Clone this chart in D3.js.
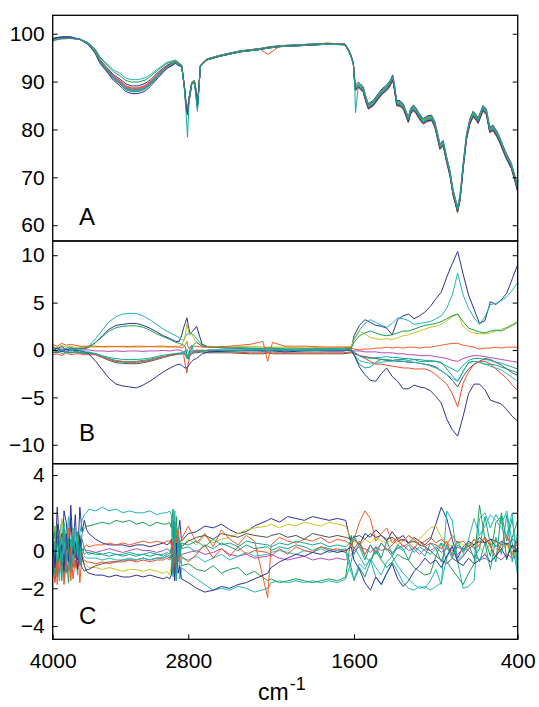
<!DOCTYPE html>
<html>
<head>
<meta charset="utf-8">
<script src="https://cdn.jsdelivr.net/npm/d3@7"></script>
<style>
  body { margin: 0; background: #fff; }
  text { font-family: "Liberation Sans", Arial, Helvetica, sans-serif; }
</style>
</head>
<body>
<svg id="chart" width="539" height="707"></svg>
<script>
// Spectra (A), scaled deviations (B) and residuals (C), twelve samples

// wavenumber grids (cm-1) for each panel
const waveA = [4000, 3935, 3847, 3758, 3688, 3626, 3581, 3519, 3464, 3404,
  3351, 3301, 3245, 3183, 3139, 3068, 2991, 2933, 2913, 2882,
  2858, 2835, 2820, 2807, 2795, 2775, 2756, 2744, 2734, 2722,
  2712, 2667, 2570, 2426, 2281, 2223, 2136, 1991, 1798, 1666,
  1642, 1622, 1605, 1596, 1589, 1568, 1552, 1532, 1512, 1495,
  1458, 1422, 1394, 1360, 1336, 1316, 1303, 1287, 1263, 1239,
  1219, 1202, 1186, 1165, 1146, 1129, 1109, 1092, 1065, 1031,
  1007, 985, 970, 946, 921, 897, 873, 857, 841, 824,
  813, 800, 775, 751, 727, 707, 690, 671, 654, 629,
  605, 581, 554, 532, 510, 483, 446, 422, 400];

const waveB = [4000, 3960, 3920, 3880, 3840, 3800, 3760, 3720,
  3680, 3620, 3560, 3500, 3440, 3380, 3320, 3260, 3200, 3140, 3080, 3020, 2960, 2910,
  2880, 2860, 2840, 2825, 2812, 2800, 2788, 2775, 2760, 2740, 2700,
  2650, 2500, 2350, 2260, 2225, 2190, 2100, 1950, 1800, 1680, 1620,
  1600, 1560, 1520, 1480, 1440, 1400, 1360, 1320, 1280, 1240, 1200, 1160, 1120, 1080, 1040, 1000,
  960, 920, 880, 840, 800, 760, 720, 680, 640, 600, 560, 520, 480, 440, 400];

const waveC = [4000, 3980, 3960, 3940, 3920, 3900, 3880, 3860, 3840, 3820, 3800, 3780, 3760, 3740, 3720, 3700,
  3680, 3620, 3560, 3500, 3440, 3380, 3320, 3260, 3200, 3140, 3080, 3020, 2990, 2965,
  2950, 2935, 2920, 2905, 2890, 2875, 2860,
  2800, 2740, 2680, 2620, 2560, 2500, 2440, 2380, 2320, 2225, 2200, 2140, 2080, 2020, 1960, 1900, 1840, 1780, 1720, 1660, 1620,
  1600, 1560, 1520, 1480, 1440, 1400, 1360, 1320, 1280, 1240, 1200, 1160, 1120, 1080, 1040, 1000,
  960, 920, 880, 840, 800, 760, 720, 680, 640, 600, 560, 520, 480, 440, 400];

const seriesColors = ["#2e3192", "#1cb5b8", "#c9c31c", "#1a9e4f", "#f15a24", "#b54ab5",
  "#505050", "#12a37f", "#2ab8c0", "#ee4d2a", "#2e3192", "#16a89a"];

// Panel A: spectra
const aS0 = [99.0, 99.3, 99.4,
  98.8, 98.0, 96.5, 94.5, 92.9, 91.5, 90.5, 89.5, 89.1, 89.1, 89.6, 90.3, 91.9, 93.4, 94.0, 94.2, 93.6, 93.3,
  89.2, 85.5, 83.9, 86.5, 89.9, 90.2, 88.2, 85.2, 89.5, 93.4, 94.7, 95.5, 96.4, 96.9, 97.2, 97.5, 97.7, 98.0, 97.9, 96.8, 95.5, 94.0,
  91.0, 89.3, 89.9, 89.5, 88.9, 86.8, 85.4, 86.1, 87.5, 88.5, 89.3, 90.2, 91.4, 89.3, 86.1, 86.0, 85.4,
  83.9, 82.6, 84.3, 85.1, 84.5, 83.7, 82.8, 82.3, 82.8, 83.0, 81.6, 78.9, 77.0, 77.7, 74.3, 71.5, 67.3, 65.6, 63.8, 66.1,
  69.0, 72.9, 79.1, 82.2, 83.8, 83.2, 82.4, 83.8, 85.0, 84.2, 80.5, 80.9, 79.7, 78.4, 76.8, 75.0, 72.9, 70.5, 68.1];
const aS1 = [98.8, 99.1, 99.2,
  98.9, 98.2, 96.9, 95.1, 93.7, 92.5, 91.7, 90.7, 90.4, 90.4, 90.8, 91.4, 92.7, 94.0, 94.4, 94.5, 93.9, 93.5,
  89.0, 85.2, 83.5, 86.2, 89.7, 90.0, 87.9, 84.8, 89.3, 93.3, 94.6, 95.4, 96.3, 96.8, 97.1, 97.4, 97.6, 97.9, 97.8, 96.7, 95.4, 93.9,
  90.8, 89.1, 89.7, 89.3, 88.7, 86.6, 85.2, 85.9, 87.3, 88.3, 89.1, 90.0, 91.2, 89.1, 85.9, 85.8, 85.2,
  83.7, 82.4, 84.1, 84.9, 84.3, 83.5, 82.6, 82.1, 82.6, 82.8, 81.4, 78.7, 76.8, 77.5, 74.1, 71.3, 67.1, 65.4, 63.6, 65.9,
  68.8, 72.7, 78.9, 82.0, 83.6, 83.0, 82.2, 83.6, 84.8, 84.0, 80.3, 80.7, 79.5, 78.2, 76.6, 74.8, 72.7, 70.3, 67.9];
const aS2 = [98.9, 99.1, 99.1,
  98.8, 97.9, 96.2, 94.1, 92.4, 90.8, 89.7, 88.6, 88.2, 88.2, 88.7, 89.5, 91.3, 93.0, 93.7, 94.0, 93.5, 93.2,
  88.8, 84.9, 83.1, 85.9, 89.5, 89.8, 87.6, 84.5, 89.1, 93.2, 94.5, 95.3, 96.2, 96.7, 97.0, 97.3, 97.5, 97.8, 97.7, 96.6, 95.3, 93.8,
  90.6, 88.9, 89.5, 89.1, 88.5, 86.4, 85.0, 85.7, 87.1, 88.1, 88.9, 89.8, 91.0, 88.9, 85.7, 85.6, 85.0,
  83.5, 82.2, 83.9, 84.7, 84.1, 83.3, 82.4, 81.9, 82.4, 82.6, 81.2, 78.5, 76.6, 77.3, 73.9, 71.1, 66.9, 65.2, 63.4, 65.7,
  68.6, 72.5, 78.7, 81.8, 83.4, 82.8, 82.0, 83.4, 84.6, 83.8, 80.1, 80.5, 79.3, 78.0, 76.4, 74.6, 72.5, 70.1, 67.7];
const aS3 = [98.7, 99.0, 99.2,
  98.9, 98.1, 96.8, 94.9, 93.4, 92.1, 91.2, 90.2, 89.9, 89.9, 90.3, 91.0, 92.4, 93.8, 94.2, 94.4, 93.8, 93.4,
  89.2, 85.5, 83.9, 86.5, 89.9, 90.2, 88.2, 85.2, 89.5, 93.4, 94.7, 95.5, 96.4, 96.9, 97.2, 97.5, 97.7, 98.0, 97.9, 96.8, 95.5, 94.0,
  90.5, 88.8, 89.4, 89.2, 88.6, 86.5, 85.1, 85.8, 87.2, 88.2, 89.0, 89.9, 91.1, 89.0, 85.8, 85.7, 85.1,
  83.6, 82.3, 84.0, 84.8, 84.2, 83.4, 82.5, 82.0, 82.5, 82.7, 81.3, 78.6, 76.7, 77.4, 74.0, 71.2, 67.0, 65.3, 63.5, 65.8,
  68.7, 72.6, 78.8, 81.9, 83.5, 82.9, 82.1, 83.5, 84.7, 83.9, 80.2, 80.6, 79.4, 78.1, 76.5, 74.7, 72.6, 70.2, 67.8];
const aS4 = [98.8, 99.2, 99.2,
  98.8, 97.9, 96.4, 94.3, 92.7, 91.2, 90.2, 89.1, 88.7, 88.7, 89.2, 90.0, 91.6, 93.2, 93.9, 94.1, 93.6, 93.2,
  89.1, 85.3, 83.7, 86.3, 89.8, 90.1, 88.0, 84.9, 89.4, 93.3, 94.6, 95.4, 96.3, 96.8, 95.7, 97.4, 97.6, 97.9, 97.8, 96.7, 95.4, 93.9,
  90.4, 88.7, 89.3, 88.9, 88.3, 86.2, 84.8, 85.5, 86.9, 87.9, 88.7, 89.6, 90.8, 88.7, 85.5, 85.4, 84.8,
  83.3, 82.0, 83.7, 84.5, 83.9, 83.1, 82.2, 81.7, 82.2, 82.4, 81.0, 78.3, 76.4, 77.1, 73.7, 70.9, 66.7, 65.0, 63.2, 65.5,
  68.4, 72.3, 78.5, 81.6, 83.2, 82.6, 81.8, 83.2, 84.4, 83.6, 79.9, 80.3, 79.1, 77.8, 76.2, 74.4, 72.3, 69.9, 67.5];
const aS5 = [98.9, 99.2, 99.3,
  98.8, 97.9, 96.3, 94.2, 92.5, 91.0, 89.9, 88.8, 88.4, 88.4, 88.9, 89.7, 91.4, 93.1, 93.8, 94.0, 93.5, 93.2,
  89.0, 85.2, 83.5, 86.2, 89.7, 90.0, 87.9, 84.8, 89.3, 93.3, 94.6, 95.4, 96.3, 96.8, 97.1, 97.4, 97.6, 97.9, 97.8, 96.7, 95.4, 93.9,
  90.2, 88.5, 89.1, 88.7, 88.1, 86.0, 84.6, 85.3, 86.7, 87.7, 88.5, 89.4, 90.6, 88.5, 85.3, 85.2, 84.6,
  83.1, 81.8, 83.5, 84.3, 83.7, 82.9, 82.0, 81.5, 82.0, 82.2, 80.8, 78.1, 76.2, 76.9, 73.5, 70.7, 66.5, 64.8, 63.0, 65.3,
  68.2, 72.1, 78.3, 81.4, 83.0, 82.4, 81.6, 83.0, 84.2, 83.4, 79.7, 80.1, 78.9, 77.6, 76.0, 74.2, 72.1, 69.7, 67.3];
const aS6 = [98.9, 99.1, 99.2,
  98.8, 97.8, 96.1, 94.0, 92.2, 90.6, 89.5, 88.3, 87.9, 87.9, 88.4, 89.3, 91.1, 92.9, 93.6, 93.9, 93.4, 93.1,
  88.8, 84.9, 83.1, 85.9, 89.5, 89.8, 87.6, 84.5, 89.1, 93.2, 94.5, 95.3, 96.2, 96.7, 97.0, 97.3, 97.5, 97.8, 97.7, 96.6, 95.3, 93.8,
  90.1, 88.4, 89.0, 88.6, 88.0, 85.9, 84.5, 85.2, 86.6, 87.6, 88.4, 89.3, 90.5, 88.4, 85.2, 85.1, 84.5,
  83.0, 81.7, 83.4, 84.2, 83.6, 82.8, 81.9, 81.4, 81.9, 82.1, 80.7, 78.0, 76.1, 76.8, 73.4, 70.6, 66.4, 64.7, 62.9, 65.2,
  68.1, 72.0, 78.2, 81.3, 82.9, 82.3, 81.5, 82.9, 84.1, 83.3, 79.6, 80.0, 78.8, 77.5, 75.9, 74.1, 72.0, 69.6, 67.2];
const aS7 = [98.8, 99.2, 99.1,
  98.8, 97.9, 96.2, 94.1, 92.3, 90.8, 89.6, 88.5, 88.1, 88.1, 88.6, 89.4, 91.2, 93.0, 93.7, 93.9, 93.4, 93.2,
  89.2, 85.5, 83.9, 86.5, 89.9, 90.2, 88.2, 85.2, 89.5, 93.4, 94.7, 95.5, 96.4, 96.9, 97.2, 97.5, 97.7, 98.0, 97.9, 96.8, 95.5, 94.0,
  90.0, 88.3, 88.9, 88.5, 87.9, 85.8, 84.4, 85.1, 86.5, 87.5, 88.3, 89.2, 90.4, 88.3, 85.1, 85.0, 84.4,
  82.9, 81.6, 83.3, 84.1, 83.5, 82.7, 81.8, 81.3, 81.8, 82.0, 80.6, 77.9, 76.0, 76.7, 73.3, 70.5, 66.3, 64.6, 62.8, 65.1,
  68.0, 71.9, 78.1, 81.2, 82.8, 82.2, 81.4, 82.8, 84.0, 83.2, 79.5, 79.9, 78.7, 77.4, 75.8, 74.0, 71.9, 69.5, 67.1];
const aS8 = [98.7, 99.0, 99.1,
  98.8, 97.8, 96.2, 94.0, 92.3, 90.7, 89.6, 88.4, 88.0, 88.0, 88.5, 89.4, 91.1, 92.9, 93.7, 93.9, 93.4, 93.1,
  88.8, 84.9, 83.1, 85.9, 89.5, 89.8, 87.6, 84.5, 89.1, 93.2, 94.5, 95.3, 96.2, 96.7, 97.0, 97.3, 97.5, 97.8, 97.7, 96.6, 95.3, 93.8,
  90.2, 88.5, 89.1, 88.7, 88.1, 86.0, 84.6, 85.3, 86.7, 87.7, 88.5, 89.4, 90.6, 88.5, 85.3, 85.2, 84.6,
  83.1, 81.8, 83.5, 84.3, 83.7, 82.9, 82.0, 81.5, 82.0, 82.2, 80.8, 78.1, 76.2, 76.9, 73.5, 70.7, 66.5, 64.8, 63.0, 65.3,
  68.2, 72.1, 78.3, 81.4, 83.0, 82.4, 81.6, 83.0, 84.2, 83.4, 79.7, 80.1, 78.9, 77.6, 76.0, 74.2, 72.1, 69.7, 67.3];
const aS9 = [98.6, 98.9, 99.0,
  98.8, 97.9, 96.4, 94.3, 92.6, 91.2, 90.1, 89.0, 88.6, 88.6, 89.1, 89.9, 91.5, 93.2, 93.9, 94.0, 93.5, 93.2,
  89.0, 85.2, 83.5, 86.2, 89.7, 90.0, 87.9, 84.8, 89.3, 93.3, 94.6, 95.4, 96.3, 96.8, 97.1, 97.4, 97.6, 97.9, 97.8, 96.7, 95.4, 93.9,
  89.8, 88.1, 88.7, 88.3, 87.7, 85.6, 84.2, 84.9, 86.3, 87.3, 88.1, 89.0, 90.2, 88.1, 84.9, 84.8, 84.2,
  82.7, 81.4, 83.1, 83.9, 83.3, 82.5, 81.6, 81.1, 81.6, 81.8, 80.4, 77.7, 75.8, 76.5, 73.1, 70.3, 66.1, 64.4, 62.6, 64.9,
  67.8, 71.7, 77.9, 81.0, 82.6, 82.0, 81.2, 82.6, 83.8, 83.0, 79.3, 79.7, 78.5, 77.2, 75.6, 73.8, 71.7, 69.3, 66.9];
const aS10 = [99.0, 99.3, 99.3,
  98.8, 97.8, 96.0, 93.8, 92.0, 90.3, 89.1, 87.9, 87.5, 87.5, 88.0, 88.9, 90.8, 92.7, 93.5, 93.8, 93.3, 93.1,
  88.8, 84.9, 83.1, 85.9, 89.5, 89.8, 87.6, 84.5, 89.1, 93.2, 94.5, 95.3, 96.2, 96.7, 97.0, 97.3, 97.5, 97.8, 97.7, 96.6, 95.3, 93.8,
  90.0, 88.3, 88.9, 88.5, 87.9, 85.8, 84.4, 85.1, 86.5, 87.5, 88.3, 89.2, 90.4, 88.3, 85.1, 85.0, 84.4,
  82.9, 81.6, 83.3, 84.1, 83.5, 82.7, 81.8, 81.3, 81.8, 82.0, 80.6, 77.9, 76.0, 76.7, 73.3, 70.5, 66.3, 64.6, 62.8, 65.1,
  68.0, 71.9, 78.1, 81.2, 82.8, 82.2, 81.4, 82.8, 84.0, 83.2, 79.5, 79.9, 78.7, 77.4, 75.8, 74.0, 71.9, 69.5, 67.1];
const aS11 = [98.5, 98.9, 99.1,
  98.8, 97.9, 96.3, 94.1, 92.4, 90.9, 89.7, 88.6, 88.2, 88.3, 88.7, 89.6, 91.3, 93.0, 93.8, 94.0, 93.5, 93.2,
  88.6, 83.5, 78.4, 85.5, 89.5, 89.8, 86.5, 83.8, 88.8, 93.1, 94.5, 95.3, 96.2, 96.7, 97.0, 97.3, 97.5, 97.8, 97.7, 96.6, 95.2, 93.6,
  90.3, 83.5, 89.2, 88.9, 88.3, 86.2, 84.8, 85.5, 86.9, 87.9, 88.7, 89.6, 90.8, 88.7, 85.5, 85.4, 84.8,
  83.3, 82.0, 83.7, 84.5, 83.9, 83.1, 82.2, 81.7, 82.2, 82.4, 81.0, 78.3, 76.4, 77.1, 73.7, 70.9, 66.7, 65.0, 63.2, 65.5,
  68.4, 72.3, 78.5, 81.6, 83.2, 82.6, 81.8, 83.2, 84.4, 83.6, 79.9, 80.3, 79.1, 77.8, 76.2, 74.4, 72.3, 69.9, 67.5];

// Panel B: scaled deviations
const bS0 = [0.3, 0.1, 0.4, 0.0, 0.2, 0.1, 0.2, 0.1,
  0.3, 0.8, 1.5, 2.2, 2.6, 2.7, 2.8, 2.8, 2.6, 2.3, 1.9, 1.5, 1.2, 0.9,
  0.9, 1.5, 2.4, 2.9, 3.4, 2.6, 1.7, 1.9, 2.1, 2.5, 0.6,
  0.3, 0.2, 0.1, 0.1, 0.1, 0.1, 0.0, 0.1, 0.0, 0.0, 0.1,
  1.5, 2.6, 3.2, 2.9, 2.6, 2.5, 2.3, 1.6, 3.2, 3.6, 3.8, 3.3, 3.6, 4.0, 4.6, 5.4,
  6.1, 7.7, 9.1, 10.4, 8.0, 5.8, 4.3, 2.8, 3.1, 5.1, 4.8, 5.3, 6.0, 7.5, 9.0];
const bS1 = [0.1, 0.3, 0.0, 0.2, 0.3, 0.1, 0.2, 0.3,
  0.4, 1.2, 2.1, 3.0, 3.5, 3.8, 3.85, 3.85, 3.6, 3.2, 2.7, 2.2, 1.8, 1.5,
  1.3, 1.1, 1.0, 1.4, 1.7, 1.7, 1.7, 1.7, 1.6, 1.2, 0.5,
  0.3, 0.3, 0.2, 0.2, 0.3, 0.2, 0.2, 0.2, 0.1, 0.2, 0.3,
  1.2, 2.1, 2.8, 3.2, 2.9, 2.6, 2.4, 2.8, 3.4, 3.3, 3.1, 2.7, 2.8, 2.9, 3.0, 3.3,
  3.6, 4.4, 5.8, 8.1, 5.8, 4.4, 3.4, 2.7, 3.5, 4.8, 4.9, 5.2, 5.6, 6.3, 7.1];
const bS2 = [0.4, 0.2, 0.5, 0.3, 0.4, 0.3, 0.3, 0.3,
  0.3, 0.3, 0.3, 0.3, 0.35, 0.3, 0.3, 0.3, 0.3, 0.35, 0.3, 0.3, 0.3, 0.4,
  0.4, 0.5, 1.0, 1.7, 2.8, 2.0, 1.6, 1.7, 1.2, 0.8, 0.4,
  0.3, 0.3, 0.4, 0.3, 0.3, 0.3, 0.3, 0.2, 0.3, 0.3, 0.4,
  1.0, 2.0, 1.7, 1.3, 1.2, 1.1, 1.2, 1.1, 1.3, 1.5, 1.6, 1.8, 2.0, 2.2, 2.4, 2.5,
  2.7, 3.1, 3.5, 3.8, 2.5, 2.0, 1.8, 1.7, 1.7, 1.8, 2.0, 2.2, 2.4, 2.7, 3.0];
const bS3 = [0.0, 0.2, -0.1, 0.1, 0.0, 0.2, 0.1, 0.2,
  0.3, 0.8, 1.4, 2.0, 2.35, 2.5, 2.55, 2.55, 2.4, 2.1, 1.7, 1.4, 1.1, 0.8,
  0.7, 0.6, 0.5, 0.3, -0.5, -0.9, -0.4, 0.3, 0.6, 0.8, 0.4,
  0.3, 0.2, 0.2, 0.1, 0.2, 0.2, 0.1, 0.1, 0.1, 0.1, 0.2,
  0.8, 1.5, 1.8, 2.0, 1.8, 1.6, 1.5, 1.6, 1.8, 2.0, 2.0, 2.2, 2.4, 2.6, 2.7, 2.8,
  3.0, 3.3, 3.6, 3.8, 3.0, 2.3, 2.1, 1.9, 1.8, 2.0, 2.1, 2.0, 2.3, 2.6, 2.9];
const bS4 = [0.6, 0.4, 0.7, 0.5, 0.6, 0.5, 0.4, 0.4,
  0.4, 0.4, 0.35, 0.4, 0.35, 0.4, 0.35, 0.4, 0.4, 0.35, 0.4, 0.4, 0.35, 0.3,
  0.3, 0.2, 0.3, 0.6, 0.9, 0.2, 0.2, 0.3, 0.4, 0.4, 0.3,
  0.3, 0.4, 0.6, 0.9, -1.2, 0.8, 0.4, 0.4, 0.3, 0.3, 0.2,
  0.1, 0.0, 0.1, 0.1, 0.2, 0.2, 0.3, 0.2, 0.3, 0.2, 0.3, 0.3, 0.2, 0.3, 0.3, 0.4,
  0.5, 0.6, 0.7, 0.7, 0.5, 0.4, 0.3, 0.1, 0.2, 0.2, 0.3, 0.2, 0.3, 0.3, 0.3];
const bS5 = [0.0, -0.1, 0.1, 0.0, -0.1, 0.0, 0.0, 0.0,
  0.0, -0.1, -0.1, -0.15, -0.1, -0.15, -0.1, -0.1, -0.15, -0.1, -0.1, -0.05, -0.1, 0.0,
  0.0, -0.1, -0.2, -0.4, -0.6, -0.5, -0.2, -0.1, -0.1, 0.0, -0.1,
  -0.1, 0.0, 0.0, -0.1, -0.1, 0.0, -0.1, 0.0, -0.1, -0.1, 0.0,
  -0.1, -0.1, -0.2, -0.2, -0.2, -0.3, -0.3, -0.3, -0.4, -0.4, -0.5, -0.5, -0.6, -0.6, -0.6, -0.7,
  -0.8, -0.9, -1.1, -1.2, -0.9, -0.7, -0.6, -0.6, -0.7, -0.8, -0.9, -1.0, -1.1, -1.2, -1.3];
const bS6 = [-0.2, -0.3, -0.1, -0.2, -0.3, -0.2, -0.3, -0.3,
  -0.3, -0.5, -0.8, -1.1, -1.35, -1.4, -1.45, -1.45, -1.35, -1.2, -1.0, -0.8, -0.6, -0.5,
  -0.4, -0.4, -0.4, -0.5, -0.7, -0.8, -0.6, -0.4, -0.3, -0.3, -0.2,
  -0.3, -0.3, -0.4, -0.4, -0.3, -0.4, -0.4, -0.4, -0.4, -0.4, -0.3,
  -0.4, -0.6, -0.7, -0.8, -0.9, -1.0, -1.1, -1.1, -1.2, -1.2, -1.3, -1.3, -1.4, -1.5, -1.6, -1.8,
  -2.2, -2.6, -3.2, -3.9, -2.8, -2.0, -1.5, -1.2, -0.9, -1.0, -1.3, -1.6, -2.0, -2.4, -2.7];
const bS7 = [-0.3, -0.1, -0.4, -0.2, -0.3, -0.2, -0.3, -0.4,
  -0.3, -0.4, -0.7, -0.9, -1.1, -1.2, -1.2, -1.2, -1.1, -1.0, -0.8, -0.7, -0.5, -0.4,
  -0.4, -0.4, -0.3, 0.0, -0.8, -1.0, 0.2, 0.5, -0.2, -0.2, -0.1,
  -0.1, -0.1, 0.0, -0.1, 0.0, -0.1, 0.0, 0.0, 0.1, 0.0, -0.1,
  -0.5, -1.5, -1.9, -1.8, -1.3, -1.0, -1.0, -1.1, -1.0, -1.0, -1.1, -1.0, -1.2, -1.2, -1.2, -1.2,
  -1.3, -2.0, -2.7, -3.3, -2.3, -1.3, -1.2, -1.3, -1.5, -1.5, -1.6, -1.8, -2.0, -2.2, -2.4];
const bS8 = [0.2, -0.1, 0.3, 0.0, 0.1, -0.1, 0.0, -0.2,
  -0.2, -0.4, -0.7, -1.0, -1.2, -1.3, -1.3, -1.3, -1.2, -1.1, -0.9, -0.7, -0.55, -0.4,
  -0.3, -0.3, -0.2, -0.1, 0.1, -0.3, -0.5, -0.3, -0.2, -0.1, -0.1,
  0.0, 0.1, 0.1, 0.0, 0.1, 0.0, 0.1, 0.0, 0.0, 0.1, 0.0,
  -0.5, -1.1, -1.3, -1.4, -1.4, -1.3, -1.2, -1.2, -1.1, -1.2, -1.2, -1.3, -1.4, -1.5, -1.7, -1.9,
  -2.2, -2.6, -3.0, -3.3, -2.2, -1.4, -1.2, -1.3, -1.5, -1.7, -1.9, -2.1, -2.5, -2.9, -3.3];
const bS9 = [-0.5, -0.4, -0.6, -0.3, -0.5, -0.4, -0.4, -0.5,
  -0.5, -0.5, -0.8, -1.0, -1.2, -1.25, -1.3, -1.3, -1.2, -1.1, -0.9, -0.7, -0.55, -0.45,
  -0.4, -0.3, -0.6, -1.7, -2.4, -1.4, -0.6, -0.3, -0.2, -0.1, 0.0,
  -0.1, -0.2, -0.3, -0.3, -0.3, -0.3, -0.3, -0.3, -0.3, -0.3, -0.2,
  -0.3, -0.6, -0.9, -1.2, -1.5, -1.5, -1.6, -1.7, -1.8, -1.9, -1.9, -2.0, -2.0, -2.0, -2.2, -2.6,
  -3.1, -3.6, -4.6, -6.0, -3.5, -2.3, -1.5, -1.2, -1.2, -1.5, -2.0, -2.5, -3.0, -3.7, -4.3];
const bS10 = [-0.1, 0.2, -0.2, 0.1, -0.1, 0.0, -0.1, -0.2,
  -0.4, -1.2, -2.1, -3.0, -3.6, -3.8, -3.9, -4.0, -3.7, -3.3, -2.8, -2.3, -1.9, -1.6,
  -1.5, -1.6, -1.8, -1.9, -1.9, -1.7, -1.4, -1.2, -1.0, -0.9, -0.4,
  -0.2, -0.1, -0.1, -0.1, -0.1, -0.1, -0.2, -0.1, -0.1, -0.1, 0.0,
  -0.5, -1.8, -2.6, -3.2, -3.3, -2.5, -1.9, -2.8, -3.3, -4.1, -4.1, -3.7, -3.9, -4.0, -4.3, -4.9,
  -5.6, -7.3, -8.4, -9.1, -7.0, -4.6, -3.6, -3.6, -4.2, -5.3, -5.5, -5.7, -6.3, -7.0, -7.5];
const bS11 = [0.1, -0.2, 0.0, -0.3, 0.0, -0.2, -0.1, -0.3,
  -0.3, -0.4, -0.6, -0.8, -0.9, -1.0, -1.0, -1.0, -0.95, -0.85, -0.7, -0.55, -0.45, -0.4,
  -0.4, -0.4, -0.3, -0.5, -0.9, -0.5, -0.2, -0.2, -0.2, -0.2, -0.1,
  0.0, -0.1, 0.0, 0.0, -0.1, 0.0, 0.0, -0.1, 0.0, 0.0, 0.0,
  -0.2, -0.6, -0.8, -0.9, -0.8, -0.8, -0.7, -0.8, -0.8, -0.9, -0.9, -1.0, -1.0, -1.1, -1.1, -1.2,
  -1.4, -1.7, -2.0, -2.3, -1.6, -1.1, -0.9, -0.9, -1.0, -1.1, -1.3, -1.4, -1.6, -1.8, -2.0];

// Panel C: residuals
const cS0 = [1.2, -0.6, 2.3, 0.4, -0.8, 2.1, 1.5, -0.3, 2.4, 0.2, 1.9, -0.5, 2.3, 1.0, 1.6, 1.1,
  0.9, 0.6, 0.4, 0.3, 0.3, 0.3, 0.2, 0.3, 0.3, 0.2, 0.3, 0.4, 0.3, 0.4,
  0.6, -1.2, 1.5, -0.8, 0.9, 1.6, 0.5,
  0.9, 1.0, 1.3, 1.2, 1.4, 1.1, 0.9, 1.0, 1.3, 1.6, 1.7, 1.5, 1.8, 1.7, 1.6, 1.8, 1.7, 1.6, 1.7, 1.6, 0.3,
  0.6, 0.3, 0.9, 0.7, 1.1, 0.8, 0.5, 1.0, 0.6, 0.8, 0.4, 0.7, 0.5, 0.3, 0.6, 1.4,
  2.3, 1.7, 0.6, -0.4, 0.2, 0.5, 0.3, 0.7, 0.4, 0.6, 0.2, 0.5, 0.3, 0.6, 0.4];
const cS1 = [-0.4, 1.3, -1.1, 0.8, 1.6, -0.9, 0.3, 1.8, -0.6, 1.2, 0.1, -1.3, 0.9, 1.6, 1.9, 2.0,
  2.2, 2.1, 2.3, 2.1, 2.2, 2.0, 2.1, 2.0, 2.0, 2.1, 1.9, 2.0, 2.0, 2.1,
  1.9, -1.4, 2.1, -0.6, 1.2, -1.5, -0.9,
  -1.2, -1.5, -1.8, -2.1, -2.0, -2.1, -1.9, -2.0, -2.2, -2.0, -1.7, -1.6, -1.7, -1.6, -1.7, -1.6, -1.7, -1.6, -1.7, -1.5, -0.6,
  0.2, -0.3, -0.8, -0.5, -1.4, -1.8, -1.2, -0.6, -1.1, -1.7, -2.0, -2.1, -1.9, -2.0, -1.6, -1.0,
  -1.8, 2.1, 1.6, -0.6, -2.0, -1.9, -1.6, 1.7, 2.0, 1.2, 1.9, 1.4, 2.1, 0.4, -1.3];
const cS2 = [1.8, 0.6, 1.4, -0.2, 1.7, 0.9, 1.1, 0.2, 1.6, 0.4, -0.3, 0.8, 0.1, -0.4, -0.7, -0.8,
  -0.9, -0.9, -1.0, -0.9, -1.0, -1.1, -1.0, -1.0, -1.1, -1.0, -1.1, -1.2, -1.1, -1.3,
  -0.8, 0.6, -1.3, 1.1, 0.3, -0.4, 0.2,
  0.6, 0.3, 0.8, 0.4, 0.6, 0.7, 0.9, 1.1, 1.2, 1.3, 1.4, 1.2, 1.4, 1.3, 1.5, 1.4, 1.3, 1.5, 1.4, 1.3, 0.6,
  0.5, 0.3, 0.6, 0.4, 0.7, 0.5, 0.4, 0.6, 0.3, 0.5, 0.8, 0.4, 0.6, 0.9, 1.2, 1.3,
  0.7, 0.4, 0.2, 0.5, 0.3, 0.1, 0.6, 0.2, -0.2, 0.4, 0.1, 0.0, 0.3, -0.3, 0.2];
const cS3 = [-0.9, 0.5, -1.4, 0.2, -1.6, 0.9, -0.3, -1.7, 0.6, -0.8, 0.4, 1.0, -0.5, 0.9, 1.2, 1.3,
  1.3, 1.4, 1.5, 1.4, 1.6, 1.5, 1.6, 1.4, 1.5, 1.3, 1.5, 1.4, 1.4, 1.5,
  1.2, 2.2, -1.2, 1.8, -0.4, 0.5, -0.8,
  -0.7, -1.0, -1.1, -0.8, -1.2, -1.0, -0.9, -1.3, -1.1, -1.6, -1.5, -1.7, -1.6, -1.5, -1.6, -1.7, -1.6, -1.5, -1.6, -1.4, 0.8,
  -0.2, 0.4, -0.3, -0.6, 0.0, -0.5, -0.9, -0.6, -0.2, -0.4, -0.5, -0.9, -1.1, -1.3, -1.2, -0.3,
  0.4, -0.6, -1.0, -1.4, -1.8, -1.2, -0.7, 2.4, 0.6, -0.3, 1.5, 1.8, -0.5, 0.7, 1.6];
const cS4 = [-1.1, 0.3, -1.8, -0.5, 0.9, -1.4, -0.2, 1.2, -1.6, 0.1, -0.9, 0.5, -1.7, -0.3, 0.2, 0.3,
  0.2, 0.3, 0.3, 0.4, 0.3, 0.4, 0.3, 0.4, 0.5, 0.4, 0.5, 0.4, 0.5, 0.5,
  0.3, -0.6, 0.9, -0.2, 1.1, 0.4, 0.6,
  1.3, 0.4, 0.9, 0.2, 1.1, 0.6, 0.3, 0.8, 0.5, -2.5, 0.3, 0.7, 0.5, 0.4, 0.6, 0.5, 0.7, 0.4, 0.6, 0.5, 0.3,
  0.6, 1.5, 2.1, 1.7, 0.5, 0.9, 1.2, 0.4, 0.7, 0.5, 0.8, 0.6, 0.3, 0.5, 0.7, 0.4,
  0.6, 0.3, 0.8, 0.4, 0.5, 0.2, 0.6, 0.4, 0.7, 0.3, 0.5, 0.1, 0.4, -0.2, 0.6];
const cS5 = [0.5, -0.2, 0.8, 0.1, -0.4, 0.6, 0.2, -0.3, 0.4, 0.0, 0.3, -0.2, 0.2, 0.0, 0.1, 0.0,
  0.0, -0.1, 0.0, 0.1, 0.0, -0.1, 0.0, 0.1, 0.0, 0.0, -0.1, 0.0, 0.1, 0.0,
  -0.2, 0.3, -0.5, 0.2, -0.3, -0.1, -0.2,
  -0.1, 0.0, -0.2, -0.1, 0.1, -0.2, -0.3, -0.2, -0.4, -0.3, -0.2, -0.4, -0.5, -0.4, -0.3, -0.5, -0.4, -0.5, -0.4, -0.5, -0.2,
  0.0, 0.2, 0.1, -0.1, 0.2, 0.0, 0.1, -0.1, 0.1, 0.3, 0.0, 0.1, -0.2, 0.1, 0.0, 0.2,
  -0.1, 0.1, 0.0, -0.2, 0.1, 0.0, -0.3, -0.5, -0.4, -0.6, -0.3, -0.5, -0.2, -0.4, -0.3];
const cS6 = [0.2, -0.7, 0.5, -0.3, 0.9, -0.5, 0.1, 0.6, -0.8, 0.3, -0.4, 0.2, -0.6, -0.9, -1.1, -1.0,
  -1.0, -0.8, -0.7, -0.6, -0.6, -0.5, -0.5, -0.5, -0.4, -0.5, -0.4, -0.4, -0.3, -0.4,
  -0.2, 0.4, -0.6, 0.1, -0.3, 0.3, 0.2,
  0.5, 0.7, 0.8, 0.6, 0.9, 0.8, 0.7, 0.9, 0.8, 0.7, 0.8, 0.9, 0.7, 0.8, 0.6, 0.9, 0.8, 0.7, 0.8, 0.7, 0.6,
  0.7, 0.8, 0.6, 0.9, 0.7, 0.8, 0.6, 0.7, 0.5, 0.6, 0.4, 0.5, 0.3, 0.2, 0.0, -0.3,
  -0.5, -0.7, -0.4, -0.6, -0.3, 0.1, 0.3, 0.5, 0.4, 0.6, 0.5, 0.3, 0.4, 0.2, 0.3];
const cS7 = [0.8, -1.5, 0.2, 1.1, -0.6, 0.5, -1.2, 0.7, 0.3, -0.9, 1.0, 0.4, -0.2, 0.6, 0.1, -0.1,
  -0.1, -0.2, -0.2, -0.3, -0.2, -0.3, -0.2, -0.3, -0.2, -0.3, -0.2, -0.3, -0.2, -0.3,
  -0.4, 1.6, -1.0, 0.8, -0.3, 0.4, 0.1,
  0.2, -0.1, 0.3, 0.1, 0.4, 0.2, 0.0, 0.3, 0.1, 0.2, 0.0, 0.2, 0.1, 0.3, 0.2, 0.0, 0.2, 0.1, 0.0, 0.1, -0.9,
  -1.6, -0.9, -1.4, -0.6, 0.2, -0.4, 0.5, -0.2, 0.3, 0.1, -0.5, 0.2, 0.0, -0.3, 0.4, 0.1,
  -0.6, 0.3, -0.2, 0.5, -0.1, 0.3, -0.4, 0.1, 1.8, 0.3, -0.6, 2.0, 0.5, 1.7, -0.8];
const cS8 = [-1.3, 0.4, -0.5, -1.6, 0.7, -0.2, 1.1, -1.0, 0.5, -0.7, 1.3, -0.4, 0.6, -0.5, -0.3, -0.4,
  -0.4, -0.4, -0.5, -0.4, -0.5, -0.5, -0.4, -0.5, -0.4, -0.5, -0.4, -0.4, -0.3, -0.4,
  -0.5, -1.3, 0.6, -1.5, 0.3, -0.7, -0.4,
  -0.5, -0.3, -0.6, -0.4, -0.2, -0.5, -0.3, -0.1, -0.3, -0.2, -0.1, 0.0, -0.1, -0.2, 0.0, -0.1, 0.1, -0.1, 0.0, -0.1, -1.2,
  -1.5, -0.7, -1.0, -0.4, -0.9, -1.3, -0.6, -0.3, -0.8, -1.2, -1.5, -1.8, -2.0, -1.9, -2.1, -1.9,
  -1.7, -0.4, 0.3, -0.5, -0.2, 0.6, 1.7, 0.8, 1.3, 1.9, 1.6, 1.2, 0.8, 2.0, -1.4];
const cS9 = [-0.8, -1.7, -0.4, -1.2, 0.3, -1.8, -0.6, -1.1, 0.2, -1.5, -0.5, -1.0, -0.3, -0.6, -0.5, -0.6,
  -0.6, -0.7, -0.6, -0.7, -0.6, -0.6, -0.5, -0.6, -0.5, -0.6, -0.5, -0.5, -0.4, -0.5,
  -0.4, 0.5, -1.1, 0.7, -0.6, -0.2, -0.3,
  -0.6, -0.2, 0.3, -0.4, 0.1, -0.3, 0.2, -0.2, 0.0, -0.1, -0.3, 0.1, -0.2, 0.2, 0.0, -0.1, 0.2, 0.0, 0.1, -0.1, 0.3,
  0.1, 0.5, -0.2, 0.3, -0.1, 0.4, 0.0, 0.3, 0.6, 0.2, 0.4, 0.1, 0.5, 0.2, 0.4, 0.3,
  0.1, 0.5, -0.3, 0.2, 0.0, 0.4, 0.1, 0.3, 0.7, 0.2, -0.3, 0.4, 0.8, 0.1, 0.5];
const cS10 = [0.6, -0.9, 1.4, -0.4, 0.3, -1.1, 0.9, -0.6, 1.7, -0.2, 0.4, -1.0, 0.8, -0.3, -0.8, -1.1,
  -1.2, -1.3, -1.3, -1.4, -1.3, -1.4, -1.4, -1.3, -1.4, -1.3, -1.4, -1.5, -1.4, -1.5,
  -1.3, -0.2, -1.6, 0.4, -1.2, -0.8, -1.5,
  -1.7, -2.0, -2.2, -2.1, -1.9, -2.0, -1.8, -1.7, -1.5, -1.2, -0.9, -0.6, -0.4, -0.2, -0.3, -0.1, -0.2, 0.0, -0.1, 0.0, 0.2,
  -0.5, -1.0, -1.7, -2.1, -1.4, -1.8, -1.2, -0.7, -1.5, -1.9, -1.6, -1.1, -0.8, -0.4, -0.7, -0.5,
  -0.9, -0.3, 0.2, -0.6, -0.8, -0.4, -0.7, -0.5, -0.2, -0.6, -0.3, 0.1, -0.4, 0.3, 0.0];
const cS11 = [0.3, 1.0, -0.7, 0.6, -1.3, 1.5, -0.4, 0.2, -1.1, 0.8, -0.2, 0.5, -0.8, 0.1, -0.2, -0.1,
  -0.2, -0.1, -0.2, -0.1, -0.2, -0.2, -0.1, -0.2, -0.2, -0.1, -0.2, -0.2, -0.1, -0.2,
  0.2, -0.9, 1.2, -1.6, 0.7, -0.3, 0.4,
  0.3, 0.5, 0.2, 0.6, 0.3, 0.4, 0.2, 0.5, 0.4, 0.3, 0.2, 0.4, 0.3, 0.5, 0.4, 0.3, 0.4, 0.2, 0.3, 0.2, 0.5,
  0.8, 0.2, -0.5, 0.3, -0.2, 0.4, 0.1, -0.3, 0.2, 0.0, 0.3, -0.1, 0.2, 0.0, -0.2, 0.1,
  0.4, 0.2, -0.4, 0.3, 0.0, 0.5, 0.2, -0.6, 0.4, -1.0, 0.7, -0.2, 1.9, -0.6, 1.0];

const seriesA = [aS0, aS1, aS2, aS3, aS4, aS5, aS6, aS7, aS8, aS9, aS10, aS11];
const seriesB = [bS0, bS1, bS2, bS3, bS4, bS5, bS6, bS7, bS8, bS9, bS10, bS11];
const seriesC = [cS0, cS1, cS2, cS3, cS4, cS5, cS6, cS7, cS8, cS9, cS10, cS11];

const xTicks = [4000, 2800, 1600, 400];

// Layout
const svg = d3.select("#chart");
const pL = 52.7, pR = 517.7;
const fontFam = "'Liberation Sans', Arial, Helvetica, sans-serif";

// x axis is stretched unevenly between its ticks, as in the original
const xScale = d3.scaleLinear().
domain([4000, 2800, 1600, 400]).
range([pL, 188.3, 354, pR]);

const panels = [
  { name: "A", wave: waveA, series: seriesA, top: 15.3, bottom: 241,
    domain: [56.7, 103.85], ticks: [60, 70, 80, 90, 100], letterY: 225 },
  { name: "B", wave: waveB, series: seriesB, top: 241, bottom: 463.7,
    domain: [-12, 11.5], ticks: [-10, -5, 0, 5, 10], letterY: 441 },
  { name: "C", wave: waveC, series: seriesC, top: 463.7, bottom: 639.3,
    domain: [-4.7, 4.6], ticks: [-4, -2, 0, 2, 4], letterY: 624 }
];

panels.forEach((p, k) => {
  const yScale = d3.scaleLinear().
  domain(p.domain).
  range([p.bottom, p.top]);

  svg.append("clipPath").
  attr("id", "clip" + k).
  append("rect").
  attr("x", pL).
  attr("y", p.top).
  attr("width", pR - pL).
  attr("height", p.bottom - p.top);

  const line = d3.line().
  x((d, i) => xScale(p.wave[i])).
  y(d => yScale(d));

  svg.append("g").
  attr("clip-path", `url(#clip${k})`).
  selectAll("path").
  data(p.series).
  join("path").
  attr("d", line).
  attr("fill", "none").
  attr("stroke", (d, i) => seriesColors[i]).
  attr("stroke-width", 1).
  attr("stroke-linejoin", "round");

  // left axis, ticks pointing inward
  svg.append("g").
  attr("transform", `translate(${pL},0)`).
  call(d3.axisLeft(yScale).tickValues(p.ticks).tickSize(-5).tickPadding(8)).
  call(g => g.select(".domain").remove()).
  attr("font-size", 21).
  attr("font-family", fontFam);

  // right axis, ticks only
  svg.append("g").
  attr("transform", `translate(${pR},0)`).
  call(d3.axisRight(yScale).tickValues(p.ticks).tickSize(-5).tickFormat("")).
  call(g => g.select(".domain").remove());

  // frame
  svg.append("rect").
  attr("x", pL).
  attr("y", p.top).
  attr("width", pR - pL).
  attr("height", p.bottom - p.top).
  attr("fill", "none").
  attr("stroke", "#000").
  attr("stroke-width", 1.3);

  // panel letter
  svg.append("text").
  attr("x", 79).
  attr("y", p.letterY).
  attr("font-size", 24).
  attr("fill", "#000").
  text(p.name);
});

// shared x axis under panel C
svg.append("g").
attr("transform", `translate(0,${panels[2].bottom})`).
call(d3.axisBottom(xScale).tickValues(xTicks).tickSize(-5).tickPadding(13.5).tickFormat(d3.format("d"))).
call(g => g.select(".domain").remove()).
attr("font-size", 21).
attr("font-family", fontFam);

// x label with superscript
const xl = svg.append("text").
attr("x", 258).
attr("y", 700).
attr("font-size", 23).
attr("fill", "#000");
xl.append("tspan").text("cm");
xl.append("tspan").
attr("font-size", 18).
attr("dy", -10).
attr("dx", 1).
text("-1");
</script>
</body>
</html>
